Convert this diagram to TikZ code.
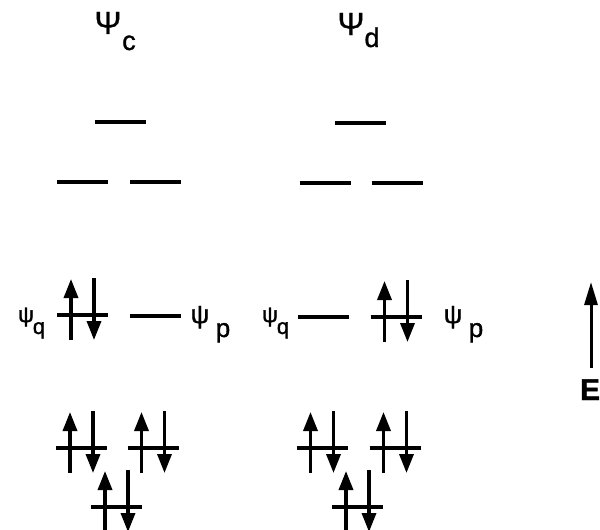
\documentclass[tikz,border=0pt]{standalone}
\usepackage{fontspec}
\setmainfont[FakeBold=1.2]{Liberation Sans}
\newfontfamily\heavy[FakeBold=1.2]{Liberation Sans}
\usetikzlibrary{arrows.meta}
\tikzset{
  lvl/.style={line width=3.2pt},
  spin/.style={line width=3.4pt,-{Triangle[width=14pt,length=19pt]}},
  lbl/.style={inner sep=0pt,anchor=base,font=\heavy\fontsize{26}{26}\selectfont},
  sml/.style={inner sep=0pt,anchor=base,font=\heavy\fontsize{22}{22}\selectfont},
  big/.style={inner sep=0pt,anchor=base,font=\heavy\fontsize{32}{32}\selectfont},
  pics/level/.style={code={\draw[lvl] (-25.5,0) -- (25.5,0);}},
  pics/pair/.style={code={
    \draw[lvl] (-25.5,0) -- (25.5,0);
    \draw[spin] (-11.5,25) -- (-11.5,-36);
    \draw[spin] (11.5,-37) -- (11.5,25);}}
}
\begin{document}
\begin{tikzpicture}[x=1pt,y=-1pt]
\useasboundingbox (0,0) rectangle (600,530);
% titles
\node[big] (Pc) at (108,34) {Ψ};
\node[big,font=\heavy\fontsize{27}{27}\selectfont] (c) at (129,50) {c};
\node[big] (Pd) at (351,35) {Ψ};
\node[big,font=\heavy\fontsize{27}{27}\selectfont] (d) at (372,47) {d};
% column c
\pic at (120.5,122) {level};
\pic at (82.5,182) {level};
\pic at (155.5,182) {level};
\pic at (82.5,315) {pair};
\pic at (155,316) {level};
\pic at (81.5,448) {pair};
\pic at (153,448) {pair};
\pic at (116.5,507) {pair};
% column d
\pic at (360.5,123) {level};
\pic at (325,183) {level};
\pic at (397,183) {level};
\pic at (323,317) {level};
\pic at (396,317) {pair};
\pic at (322,448) {pair};
\pic at (395,448) {pair};
\pic at (357.5,507) {pair};
% labels
\node[sml] (qc1) at (26,322) {ψ};
\node[sml] (qc2) at (39,334) {q};
\node[lbl] (pc1) at (200,323) {ψ};
\node[lbl] (pc2) at (223,337) {p};
\node[sml] (qd1) at (270,322) {ψ};
\node[sml] (qd2) at (283,334) {q};
\node[lbl] (pd1) at (453,323) {ψ};
\node[lbl] (pd2) at (476,337) {p};
% energy arrow
\coordinate (e0) at (591,368);
\coordinate (e1) at (591,282);
\draw[line width=3pt,-{Triangle[width=13pt,length=23pt]}] (e0) -- (e1);
\node[big,font=\bfseries\fontsize{30}{30}\selectfont] (E) at (590,400) {E};
\end{tikzpicture}
\end{document}
